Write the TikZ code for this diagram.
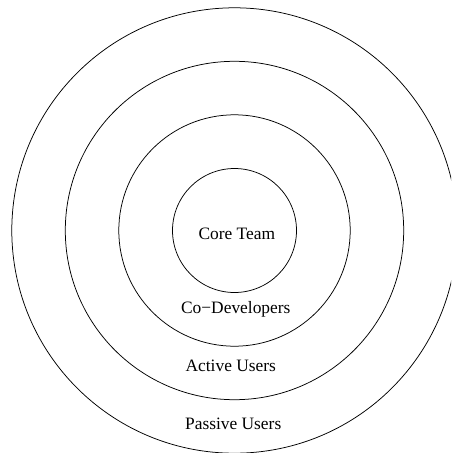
\documentclass[tikz,border=0pt]{standalone}
\usepackage{fontspec}
\setmainfont{Liberation Serif}
\begin{document}
\begin{tikzpicture}[x=1pt,y=-1pt,
  ring/.style={draw=black,line width=0.75pt,circle,inner sep=0pt,minimum size=#1},
  lbl/.style={anchor=base,inner sep=0pt,font=\fontsize{17.4pt}{20pt}\selectfont}]
\useasboundingbox (0,0) rectangle (451,453);
\begin{scope}
\clip (0,0) rectangle (451,453);
\node[ring=445.4pt] (passive) at (234.5,230.5) {};
\node[ring=338.4pt] (active) at (234.5,230.5) {};
\node[ring=231.4pt] (codev) at (234.5,230.5) {};
\node[ring=124pt] (core) at (234.5,230.5) {};
\end{scope}
\node[lbl] (tcore) at (236.8,239.3) {Core Team};
\node[lbl] (tcodev) at (235.8,313.5) {Co−Developers};
\node[lbl] (tactive) at (230.8,371.6) {Active Users};
\node[lbl] (tpassive) at (233.2,429.3) {Passive Users};
\end{tikzpicture}
\end{document}
